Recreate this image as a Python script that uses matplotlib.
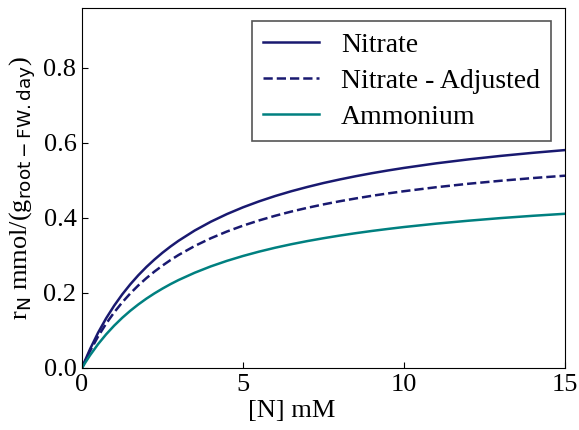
import matplotlib
matplotlib.use("Agg")
import matplotlib.pyplot as plt

plt.rcParams["font.family"] = "Liberation Serif"
plt.rcParams["mathtext.fontset"] = "dejavusans"

# concentration [N] (mM)
conc = [0, 0.1, 0.25, 0.5, 0.75, 1, 1.25, 1.5, 1.75, 2, 2.25, 2.5, 2.75,
        3, 3.5, 4, 4.5, 5, 5.5, 6, 6.5, 7, 7.5, 8, 8.5, 9, 9.5,
        10, 11, 12, 13, 14, 15]

# uptake rates
nitrate = [0, 0.0211, 0.0504, 0.0941, 0.1324, 0.1661, 0.1961, 0.2229,
           0.2471, 0.2690, 0.2888, 0.3070, 0.3236, 0.3389, 0.3661, 0.3895,
           0.4099, 0.4279, 0.4438, 0.4580, 0.4707, 0.4821, 0.4926, 0.5020,
           0.5107, 0.5187, 0.5260, 0.5328, 0.5450, 0.5555, 0.5648, 0.5730,
           0.5803]
nitrate_adj = [0, 0.0189, 0.0451, 0.0841, 0.1182, 0.1482, 0.1748, 0.1986,
               0.2200, 0.2393, 0.2568, 0.2728, 0.2875, 0.3010, 0.3249,
               0.3455, 0.3634, 0.3791, 0.3930, 0.4054, 0.4166, 0.4266,
               0.4357, 0.4440, 0.4515, 0.4585, 0.4649, 0.4708, 0.4814,
               0.4906, 0.4986, 0.5058, 0.5121]
ammonium = [0, 0.0141, 0.0339, 0.0636, 0.0897, 0.1129, 0.1337, 0.1524,
            0.1693, 0.1847, 0.1987, 0.2115, 0.2234, 0.2343, 0.2537, 0.2706,
            0.2853, 0.2983, 0.3099, 0.3203, 0.3296, 0.3380, 0.3456, 0.3526,
            0.3590, 0.3649, 0.3703, 0.3754, 0.3844, 0.3922, 0.3992, 0.4053,
            0.4107]

fig = plt.figure(figsize=(5.79, 4.30), dpi=100)
ax = fig.add_axes([82 / 579, 1 - 368 / 430, 483 / 579, 360.5 / 430])

ax.plot(conc, nitrate, color="#191970", lw=1.8, label="Nitrate")
ax.plot(conc, nitrate_adj, color="#191970", lw=1.8, ls="--",
        label="Nitrate - Adjusted")
ax.plot(conc, ammonium, color="#008080", lw=1.8, label="Ammonium")

ax.set_xlim(0, 15)
ax.set_ylim(0, 0.96)
ax.set_xticks([0, 5, 10, 15])
ax.set_yticks([0.0, 0.2, 0.4, 0.6, 0.8])
ax.set_yticklabels(["0.0", "0.2", "0.4", "0.6", "0.8"])
ax.tick_params(direction="in", labelsize=19, length=4, pad=4)

ax.set_xlabel("[N] mM", fontsize=19)
ax.xaxis.set_label_coords(0.434, -0.09)
ax.set_ylabel(r"r$_{\mathrm{N}}$ mmol/(g$_{\mathrm{root-FW.day}}$)",
              fontsize=19)

leg = ax.legend(loc="upper right", fontsize=20, fancybox=False,
                framealpha=1, edgecolor="#555555", handlelength=2.0,
                handletextpad=0.8, borderaxespad=0.5, labelspacing=0.38,
                borderpad=0.4)
leg.get_frame().set_linewidth(1.2)

fig.savefig("out.png", dpi=100)
